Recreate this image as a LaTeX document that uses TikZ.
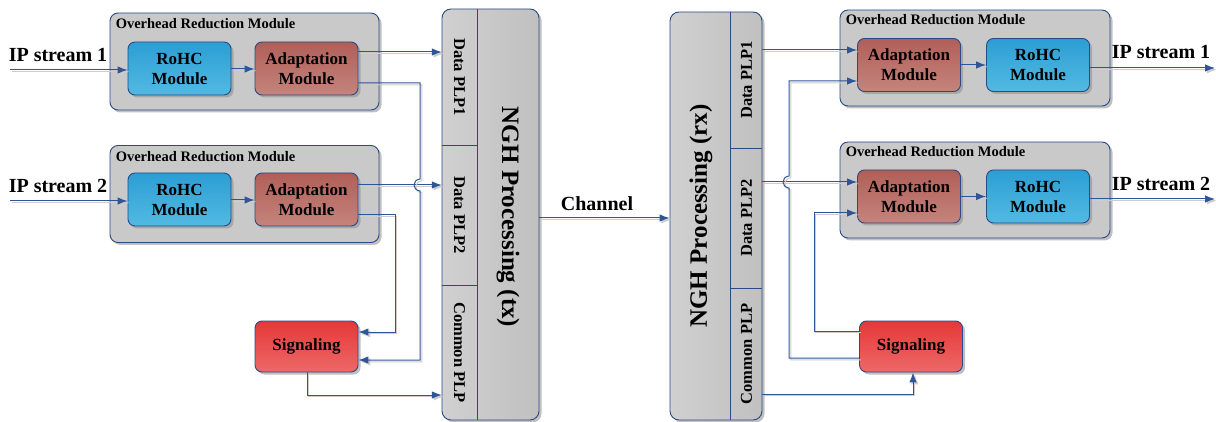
\documentclass[tikz,border=0pt]{standalone}
\usepackage{fontspec}
\setmainfont{Liberation Serif}
\usetikzlibrary{arrows.meta,shadows}

\definecolor{edgeblue}{HTML}{2B4A85}
\definecolor{linkblue}{HTML}{2F5597}
\definecolor{ormgray}{HTML}{C9C9C9}
\definecolor{rohctop}{HTML}{2C9ED4}
\definecolor{rohcbot}{HTML}{52BAE2}
\definecolor{adtop}{HTML}{B05F58}
\definecolor{adbot}{HTML}{C4847D}
\definecolor{sigtop}{HTML}{E53838}
\definecolor{sigbot}{HTML}{EE6868}
\definecolor{nghleft}{HTML}{D0D0D0}
\definecolor{nghright}{HTML}{C0C0C0}

\begin{document}
\begin{tikzpicture}[x=1pt,y=-1pt,
  every node/.style={font=\bfseries},
  boxshadow/.style={drop shadow={shadow xshift=2.5pt,shadow yshift=-2.5pt,fill=black!45,opacity=0.55}},
  ormbox/.style={draw=edgeblue,line width=0.9pt,rounded corners=8pt,fill=ormgray,
    minimum width=269pt,minimum height=97pt,inner sep=0pt,boxshadow},
  ormtitle/.style={font=\fontsize{14.5}{16}\selectfont\bfseries,inner sep=0pt,anchor=north west},
  modbox/.style={draw=edgeblue,line width=0.9pt,rounded corners=7pt,
    minimum width=103pt,minimum height=53pt,inner sep=0pt,align=center,
    font=\fontsize{17}{20}\selectfont\bfseries,boxshadow},
  rohc/.style={modbox,top color=rohctop,bottom color=rohcbot},
  adapt/.style={modbox,top color=adtop,bottom color=adbot},
  signal/.style={modbox,top color=sigtop,bottom color=sigbot,minimum height=51pt},
  nghbox/.style={draw=edgeblue,line width=0.9pt,rounded corners=9pt,
    left color=nghleft,right color=nghright,inner sep=0pt,boxshadow},
  cell/.style={draw=none,inner sep=0pt},
  plptext/.style={font=\fontsize{16.5}{18}\selectfont\bfseries,inner sep=0pt},
  nghtext/.style={font=\fontsize{25}{27}\selectfont\bfseries,inner sep=0pt},
  streamtext/.style={font=\fontsize{20}{22}\selectfont\bfseries,inner sep=0pt},
  divider/.style={draw=edgeblue,line width=0.8pt},
  wire/.style={draw=linkblue,line width=1pt,
    preaction={draw=black!20,line width=1pt,transform canvas={shift={(1.8pt,-1.8pt)}}}},
  conn/.style={wire,-{Latex[length=10pt,width=7.5pt]}}
]
\useasboundingbox (0,0) rectangle (1216,422);

% ---------------- transmitter side ----------------
\node[ormbox] (ormT1) at (244.5,61.5) {};
\node[ormtitle] (ttlT1) at ([xshift=6pt,yshift=-6pt]ormT1.north west) {Overhead Reduction Module};
\node[rohc]  (rohcT1) at (179.5,68.5) {RoHC\\Module};
\node[adapt] (adT1)   at (306.5,68.5) {Adaptation\\Module};

\node[ormbox] (ormT2) at (244.5,194) {};
\node[ormtitle] (ttlT2) at ([xshift=6pt,yshift=-6pt]ormT2.north west) {Overhead Reduction Module};
\node[rohc]  (rohcT2) at (179.5,199.5) {RoHC\\Module};
\node[adapt] (adT2)   at (306.5,199.5) {Adaptation\\Module};

\node[signal] (sigT) at (306.5,346.5) {Signaling};

\node[streamtext] (lblT1) at (58,55) {IP stream 1};
\node[streamtext] (lblT2) at (58,186) {IP stream 2};
\coordinate (inT1) at (10,70);
\coordinate (inT2) at (10,201);

% NGH transmitter block with its PLP column
\node[nghbox,minimum width=97pt,minimum height=411pt] (nghT) at (490.5,214.5) {};
\node[cell,minimum width=35pt,minimum height=136pt] (plpT1) at (459.5,77) {};
\node[cell,minimum width=35pt,minimum height=140pt] (plpT2) at (459.5,215) {};
\node[cell,minimum width=35pt,minimum height=135pt] (plpT3) at (459.5,352.5) {};
\draw[divider] (plpT1.north east) -- (plpT3.south east);
\draw[divider] (plpT1.south west) -- (plpT1.south east);
\draw[divider] (plpT2.south west) -- (plpT2.south east);
\node[plptext,rotate=-90] (txtT1) at (plpT1.center) {Data PLP1};
\node[plptext,rotate=-90] (txtT2) at (plpT2.center) {Data PLP2};
\node[plptext,rotate=-90] (txtT3) at (plpT3.center) {Common PLP};
\node[nghtext,rotate=-90] (nghTtxt) at (508,217) {NGH Processing (tx)};

% ---------------- receiver side ----------------
\node[nghbox,minimum width=92pt,minimum height=408pt] (nghR) at (716,216) {};
\node[cell,minimum width=31pt,minimum height=136pt] (plpR1) at (746.5,80) {};
\node[cell,minimum width=31pt,minimum height=140pt] (plpR2) at (746.5,218) {};
\node[cell,minimum width=31pt,minimum height=132pt] (plpR3) at (746.5,354) {};
\draw[divider] (plpR1.north west) -- (plpR3.south west);
\draw[divider] (plpR1.south west) -- (plpR1.south east);
\draw[divider] (plpR2.south west) -- (plpR2.south east);
\node[plptext,rotate=90] (txtR1) at (plpR1.center) {Data PLP1};
\node[plptext,rotate=90] (txtR2) at (plpR2.center) {Data PLP2};
\node[plptext,rotate=90] (txtR3) at (plpR3.center) {Common PLP};
\node[nghtext,rotate=90] (nghRtxt) at (701,216) {NGH Processing (rx)};

\node[ormbox,minimum width=270pt,minimum height=96pt] (ormR1) at (975,58) {};
\node[ormtitle] (ttlR1) at ([xshift=6pt,yshift=-5pt]ormR1.north west) {Overhead Reduction Module};
\node[adapt] (adR1)   at (909,65) {Adaptation\\Module};
\node[rohc]  (rohcR1) at (1038,65) {RoHC\\Module};

\node[ormbox,minimum width=270pt,minimum height=96pt] (ormR2) at (975,190) {};
\node[ormtitle] (ttlR2) at ([xshift=6pt,yshift=-5pt]ormR2.north west) {Overhead Reduction Module};
\node[adapt] (adR2)   at (909,196.5) {Adaptation\\Module};
\node[rohc]  (rohcR2) at (1038,196.5) {RoHC\\Module};

\node[signal] (sigR) at (911,346.5) {Signaling};

\node[streamtext] (lblR1) at (1161,52) {IP stream 1};
\node[streamtext] (lblR2) at (1161,184) {IP stream 2};
\coordinate (outR1) at (1215,68);
\coordinate (outR2) at (1215,199);

% ---------------- connectors: transmitter ----------------
\draw[conn] (inT1) -- (rohcT1.west |- inT1);
\draw[conn] (inT2) -- (rohcT2.west |- inT2);
\draw[conn] (rohcT1.east |- 0,69) -- (adT1.west |- 0,69);
\draw[conn] (rohcT2.east |- 0,200) -- (adT2.west |- 0,200);
\draw[conn] (adT1.east |- 0,52) -- (plpT1.west |- 0,52);
\draw[conn] (adT2.east |- 0,185) -- (plpT2.west |- 0,185);
\draw[conn] (adT1.east |- 0,83) -- (420,83) -- (420,179)
  .. controls (412,180) and (412,190) .. (420,191) -- (420,360) -- (sigT.east |- 0,360);
\draw[conn] (adT2.east |- 0,215) -- (395,215) -- (395,332) -- (sigT.east |- 0,332);
\draw[conn] (sigT.south -| 307,0) -- (307,395) -- (plpT3.west |- 0,395);

% channel
\draw[conn] (nghT.east |- 0,218) -- (nghR.west |- 0,218);
\node[streamtext] (chan) at (597,204) {Channel};

% ---------------- connectors: receiver ----------------
\draw[conn] (plpR1.east |- 0,50) -- (adR1.west |- 0,50);
\draw[conn] (plpR2.east |- 0,182) -- (adR2.west |- 0,182);
\draw[conn] (sigR.west |- 0,358) -- (789,358) -- (789,188)
  .. controls (781,187) and (781,177) .. (789,176) -- (789,81) -- (adR1.west |- 0,81);
\draw[conn] (sigR.west |- 0,331) -- (814,331) -- (814,213) -- (adR2.west |- 0,213);
\draw[conn] (plpR3.east |- 0,394) -- (913,394) -- (sigR.south -| 913,0);
\draw[conn] (adR1.east |- 0,65) -- (rohcR1.west |- 0,65);
\draw[conn] (adR2.east |- 0,196.5) -- (rohcR2.west |- 0,196.5);
\draw[conn] (rohcR1.east |- outR1) -- (outR1);
\draw[conn] (rohcR2.east |- outR2) -- (outR2);
\end{tikzpicture}
\end{document}
